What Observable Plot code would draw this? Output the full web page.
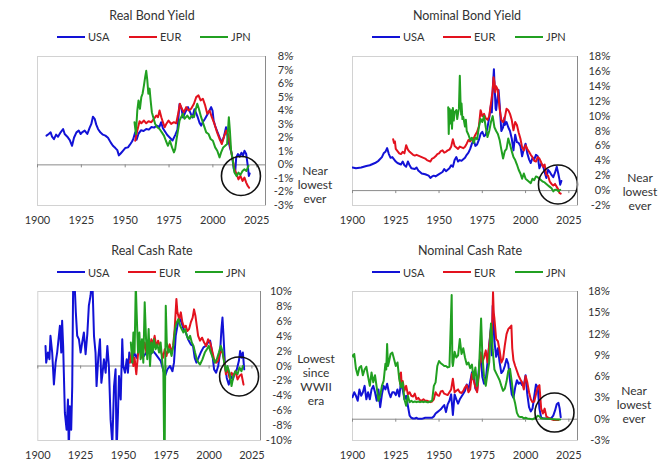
<!DOCTYPE html>
<html><head><meta charset="utf-8">
<script src="https://cdn.jsdelivr.net/npm/d3@7"></script>
<script src="https://cdn.jsdelivr.net/npm/@observablehq/plot@0.6"></script>
<style>
body{margin:0;background:#fff;}
#chart{position:relative;width:671px;height:472px;overflow:hidden;font-family:Lato,"Open Sans",sans-serif;color:#333;}
.title{position:absolute;font-size:12.5px;line-height:16px;transform:translateX(-50%);white-space:nowrap;}
.leg{position:absolute;height:16px;font-size:11px;display:flex;align-items:center;white-space:nowrap;}
.leg .sw{display:inline-block;width:28px;height:2px;margin-right:3px;}
.note{position:absolute;font-size:12px;line-height:14px;text-align:center;transform:translateX(-50%);white-space:nowrap;}
.panel{position:absolute;}
</style></head><body><div id="chart"></div>
<script>
// ---- categories / ticks ----
const seriesNames = ["USA", "EUR", "JPN"];
const xTickYears = [1900, 1925, 1950, 1975, 2000, 2025];
const realBondTicks = [-3,-2,-1,0,1,2,3,4,5,6,7,8];
const nomBondTicks = [-2,0,2,4,6,8,10,12,14,16,18];
const realCashTicks = [-10,-8,-6,-4,-2,0,2,4,6,8,10];
const nomCashTicks = [-3,0,3,6,9,12,15,18];

// ---- Real Bond Yield (%), [year, value] ----
const realBondUSA = [[1905.1,2.16],[1906.4,2.28],[1907.5,2.4],[1908.3,2.08],[1909.4,1.9],[1910.6,2.23],[1911.7,2.08],[1913.2,2.4],[1914.6,2.65],[1915.5,2.28],[1917.0,2.08],[1918.4,1.83],[1919.7,1.41],[1920.8,2.0],[1922.2,2.4],[1923.5,2.53],[1924.6,2.28],[1925.4,2.4],[1926.9,2.53],[1928.4,2.28],[1929.7,2.73],[1930.7,3.02],[1931.6,3.55],[1932.6,3.4],[1933.5,2.97],[1934.5,2.65],[1935.8,2.4],[1937.3,2.23],[1938.7,2.16],[1940.2,2.0],[1941.7,1.66],[1943.0,1.41],[1944.4,1.24],[1945.5,1.09],[1946.4,0.7],[1947.4,0.84],[1948.7,1.04],[1950.0,1.24],[1951.6,1.29],[1952.7,1.49],[1953.9,1.73],[1954.6,1.91],[1955.7,2.4],[1956.5,1.85],[1957.6,2.3],[1959,2.55],[1960.5,2.5],[1962,2.65],[1963.5,2.6],[1965,2.8],[1966.5,2.75],[1968,2.9],[1969.5,2.8],[1970.5,3.15],[1971.5,2.7],[1972.5,2.5],[1974,2.2],[1975.5,2.0],[1977,1.8],[1978.5,2.2],[1979.8,2.6],[1981,4.5],[1982,4.2],[1983,3.5],[1984.3,3.9],[1985.8,4.26],[1987,3.9],[1988.3,3.5],[1989.5,4.1],[1990.5,3.8],[1991.4,3.5],[1992.4,3.1],[1993.3,2.9],[1994.5,3.2],[1995.5,3.4],[1997.1,3.77],[1999,4.26],[1999.8,4.0],[2000.4,3.3],[2001.2,2.9],[2002.4,2.5],[2003.8,2.03],[2005.1,1.66],[2006.2,2.03],[2007.5,2.78],[2008.5,2.0],[2009.7,1.29],[2010.8,0.8],[2011.9,-0.3],[2012.7,-0.57],[2013.3,0.55],[2014.3,0.8],[2015.3,0.6],[2016.3,0.9],[2017.2,0.7],[2018,1.04],[2019,0.8],[2019.9,-0.07],[2020.5,-0.82],[2021,-0.64]];
const realBondEUR = [[1955.7,1.78],[1956.9,2.53],[1958.2,3.22],[1959.2,3.07],[1960.7,3.27],[1962.0,3.07],[1963.3,3.22],[1964.9,3.15],[1966.4,3.4],[1967.7,3.64],[1968.7,3.52],[1969.6,4.01],[1970.6,3.52],[1971.5,3.15],[1972.5,2.78],[1973.4,3.02],[1974.7,3.27],[1976.2,3.02],[1977.8,3.15],[1979.1,3.07],[1980.0,3.64],[1981.2,4.51],[1982.3,4.14],[1983.5,3.89],[1984.8,4.26],[1986.1,4.01],[1987.6,4.14],[1989.2,4.51],[1990.5,5.0],[1991.8,5.13],[1993.0,4.76],[1994.3,4.88],[1995.6,4.39],[1996.8,3.77],[1998.1,4.01],[1999.4,3.52],[2000.9,3.02],[2002.4,2.4],[2003.8,1.91],[2005.1,1.54],[2006.2,2.03],[2007.6,2.53],[2008.9,2.16],[2010.0,1.29],[2011.4,0.3],[2012.3,-0.32],[2013.5,-0.69],[2014.6,-1.07],[2015.7,-0.82],[2016.9,-1.19],[2018.0,-0.94],[2019.0,-1.31],[2019.9,-1.56],[2020.7,-1.69]];
const realBondJPN = [[1955.3,3.15],[1956.1,2.28],[1956.9,4.01],[1957.6,4.76],[1958.4,4.14],[1959.2,5.0],[1959.9,5.25],[1960.7,5.87],[1961.4,6.49],[1962.0,6.94],[1962.6,6.25],[1963.2,5.25],[1963.9,5.63],[1964.5,4.76],[1965.2,3.89],[1966.0,3.52],[1967.1,3.02],[1968.3,2.78],[1969.6,2.65],[1970.9,2.4],[1972.1,2.16],[1973.2,1.78],[1974.4,1.41],[1975.5,1.78],[1976.7,1.29],[1977.8,0.92],[1978.5,1.16],[1979.3,1.91],[1980.1,2.53],[1981.0,3.27],[1981.9,3.52],[1982.9,3.77],[1983.8,3.4],[1985.4,3.64],[1986.7,3.4],[1988.0,3.64],[1989.2,3.52],[1990.3,4.14],[1991.1,4.51],[1992.0,4.14],[1993.3,3.52],[1994.9,2.9],[1996.2,2.4],[1997.5,2.28],[1998.7,1.91],[2000.0,1.78],[2001.3,1.29],[2002.5,1.04],[2003.8,0.55],[2004.7,0.92],[2005.9,1.29],[2007.0,1.41],[2008.1,1.54],[2009.1,3.52],[2009.7,2.53],[2010.4,1.04],[2011.4,0.3],[2012.3,-0.57],[2013.5,-0.82],[2014.6,-0.57],[2015.7,-0.74],[2016.9,-0.45],[2018.0,-0.32],[2019.1,-0.45],[2020.3,-0.07]];

// ---- Nominal Bond Yield (%) ----
const nomBondUSA = [[1900,3.1],[1902,3.0],[1905,3.1],[1908,3.3],[1910,3.4],[1913,3.7],[1915,4.0],[1917,4.5],[1918,5.0],[1919,5.2],[1920,5.7],[1921,4.9],[1922,4.4],[1923,4.5],[1925,3.9],[1926,3.7],[1927,3.6],[1928,3.5],[1929,3.9],[1930,3.4],[1931,3.2],[1932,3.9],[1933,3.4],[1934,3.0],[1936,2.9],[1937,3.1],[1938,2.7],[1940,2.3],[1942,2.2],[1944,2.0],[1945,1.7],[1946,1.9],[1947,2.0],[1948,1.9],[1950,2.2],[1952,2.5],[1953,2.9],[1954,2.6],[1955,2.8],[1956,3.0],[1957,3.4],[1958,3.2],[1959,4.1],[1960,4.5],[1961,3.9],[1962,4.1],[1963,4.0],[1964,4.2],[1965,4.4],[1966,4.8],[1967,5.1],[1968,5.6],[1969,6.3],[1970,6.8],[1971,6.0],[1972,6.2],[1973,6.8],[1974,7.6],[1975,7.9],[1976,7.3],[1977,7.5],[1978,8.5],[1979,9.8],[1980,11.5],[1980.5,10.5],[1981,13.5],[1981.7,16.3],[1982.2,13.5],[1982.7,11.0],[1983,10.8],[1983.5,11.9],[1984.4,13.5],[1985,11.6],[1986,8.0],[1987,8.5],[1987.8,9.8],[1988,8.8],[1989,9.2],[1990,8.5],[1991,8.0],[1992,7.0],[1993,5.4],[1994,7.5],[1995,6.5],[1996,6.4],[1997,6.0],[1998,4.6],[1999,5.6],[2000,6.3],[2001,5.0],[2002,4.2],[2003,3.7],[2004,4.4],[2005,4.2],[2006,4.8],[2007,4.6],[2008,3.0],[2009,3.6],[2010,3.4],[2011,2.5],[2012,1.7],[2013,2.8],[2014,2.5],[2015,2.1],[2016,1.8],[2017,2.4],[2018,3.2],[2018.8,2.4],[2019.5,1.6],[2020,0.8],[2020.7,1.3]];
const nomBondEUR = [[1923.5,6.9],[1924,6.4],[1924.5,6.6],[1925,5.6],[1926,5.3],[1927,5.0],[1928,4.9],[1929,5.2],[1930,5.0],[1931,6.1],[1932,5.5],[1933,5.2],[1934,5.0],[1935,4.8],[1936,4.7],[1937,4.8],[1938,4.7],[1939,4.6],[1940,4.5],[1941,4.4],[1942,4.3],[1943,4.1],[1944,4.0],[1945,3.9],[1946,4.3],[1947,4.4],[1948,4.6],[1949,4.9],[1950,5.0],[1951,5.3],[1952,5.4],[1953,5.1],[1954,5.2],[1955,5.4],[1956,5.5],[1957,5.9],[1958,6.9],[1959,6.0],[1960,5.8],[1961,5.6],[1962,5.9],[1963,5.8],[1964,5.7],[1965,5.9],[1966,6.3],[1967,6.8],[1968,6.6],[1969,6.9],[1970,7.0],[1971,7.5],[1972,7.9],[1973,8.6],[1974,10.8],[1975,10.0],[1976,10.3],[1977,9.7],[1978,9.5],[1979,10.0],[1980,11.7],[1981,13.5],[1981.5,15.2],[1982,14.6],[1982.5,13.2],[1983,14.0],[1984,13.5],[1985,11.0],[1986,9.5],[1987,9.2],[1988,9.8],[1989,11.0],[1990,10.8],[1991,10.3],[1992,9.5],[1993,8.1],[1994,9.2],[1995,8.8],[1996,7.8],[1997,7.0],[1998,5.8],[1999,5.4],[2000,6.1],[2001,5.6],[2002,5.2],[2003,4.8],[2004,4.5],[2005,4.0],[2006,3.9],[2007,4.5],[2008,4.3],[2009,3.8],[2010,3.2],[2011,3.5],[2012,2.1],[2013,2.0],[2014,1.2],[2015,0.9],[2016,0.7],[2017,0.9],[2018,0.5],[2019,0.1],[2019.5,-0.3],[2020.3,-0.4]];
const nomBondJPN = [[1955.3,11.2],[1955.6,7.6],[1956,11.0],[1956.5,9.0],[1957,10.8],[1957.5,8.3],[1958,11.1],[1958.5,9.4],[1959,10.5],[1960,10.8],[1960.5,9.6],[1961,10.4],[1961.5,11.0],[1962,15.4],[1962.4,12.0],[1962.8,10.2],[1963,11.7],[1963.5,9.6],[1964,9.9],[1965,8.6],[1965.5,9.5],[1966,8.0],[1967,7.5],[1968,6.8],[1969,7.1],[1970,6.4],[1971,7.1],[1972,6.9],[1973,8.5],[1974,9.6],[1975,9.2],[1976,10.0],[1977,8.5],[1978,7.2],[1979,8.0],[1980,9.2],[1981,10.0],[1982,8.5],[1983,8.0],[1984,7.6],[1985,6.8],[1986,5.5],[1987,4.3],[1988,5.3],[1989,5.6],[1990,7.0],[1991,6.2],[1992,5.3],[1993,4.5],[1994,4.1],[1995,3.5],[1996,2.8],[1997,2.3],[1998,1.6],[1999,2.3],[2000,1.6],[2001,1.4],[2002,1.2],[2003,1.0],[2004,1.6],[2005,1.4],[2006,1.9],[2007,1.8],[2008,1.6],[2009,1.4],[2010,1.2],[2011,1.1],[2012,0.9],[2013,0.7],[2014,0.5],[2015,0.3],[2016,-0.1],[2017,0.1],[2018,0.1],[2019,-0.1],[2020,0.1]];

// ---- Real Cash Rate (%) ----
const realCashUSA = [[1904.5,2.7],[1904.9,0.45],[1905.9,1.8],[1906.8,0.9],[1907.4,4.05],[1908.4,1.8],[1909.4,-2.48],[1910.4,0.45],[1911.3,1.8],[1912.3,4.05],[1912.9,5.4],[1913.7,1.8],[1914.2,6.08],[1914.8,2.7],[1915.2,-0.9],[1915.8,-6.3],[1916.8,-8.56],[1917.6,-4.5],[1918.1,-11.5],[1918.7,-5.4],[1919.5,-8.56],[1920.1,-2.7],[1920.7,12.5],[1921.5,11.0],[1922.2,7.2],[1923.0,4.05],[1924.0,3.6],[1925.0,1.8],[1925.9,3.15],[1926.9,4.5],[1927.9,1.58],[1928.9,4.28],[1929.8,8.1],[1930.8,9.46],[1931.8,12.0],[1932.8,4.05],[1933.7,1.8],[1934.3,-2.7],[1935.3,1.13],[1936.3,3.6],[1937.1,-2.25],[1937.6,-1.35],[1938.6,0.9],[1939.6,-0.9],[1940.6,2.7],[1941.5,0],[1942.5,-7.2],[1943.5,-10.5],[1944.5,-2.7],[1945.4,-0.45],[1946.0,-11.5],[1946.8,-6.3],[1947.4,-1.35],[1948.4,-4.5],[1949.3,3.6],[1949.9,0],[1950.9,-0.9],[1951.9,0.9],[1952.6,-0.9],[1953.4,1.8],[1954.2,0.9],[1955.2,0.45],[1956.2,1.8],[1957.7,1.1],[1959.1,2.25],[1960.6,1.8],[1962,1.35],[1963.9,2.0],[1965.9,1.6],[1967.4,2.0],[1968.8,1.6],[1970.4,1.1],[1971.7,0.7],[1973.1,-0.45],[1974.3,-1.35],[1975.6,-0.45],[1977.2,0],[1978.6,-0.7],[1979.5,0.45],[1980.5,4.05],[1981.5,5.4],[1982.5,6.5],[1983.8,5.9],[1985,5.0],[1986.4,4.5],[1987.7,3.6],[1989.3,2.9],[1990.6,2.7],[1991.6,1.1],[1992.6,0.45],[1993.8,1.1],[1995.1,1.8],[1996.7,2.5],[1998.1,2.7],[1999.4,3.15],[2000.6,3.4],[2001.8,1.8],[2002.9,-0.45],[2004.1,-0.9],[2005.3,0],[2006.4,1.8],[2007.2,4.95],[2007.8,6.5],[2008.4,4.05],[2009.2,0.45],[2010.3,-1.6],[2011.5,-2.5],[2012.7,-1.35],[2013.9,-1.8],[2015,-0.9],[2016.2,-0.45],[2017.4,0.7],[2018.1,2.0],[2018.9,1.1],[2019.7,1.8],[2020.5,-0.45]];
const realCashEUR = [[1953.8,0.45],[1954.8,1.8],[1955.8,0],[1956.5,1.1],[1957.5,-1.1],[1958.5,1.6],[1959.5,2.7],[1960.4,1.1],[1961.4,2.0],[1962.4,3.15],[1963.4,1.8],[1964.3,2.9],[1965.3,2.25],[1966.3,3.6],[1967.2,2.9],[1968.2,4.05],[1969.2,2.5],[1970.2,3.4],[1971.2,2.7],[1972.1,1.8],[1973.1,1.1],[1974.1,2.25],[1975.1,1.35],[1976,2.25],[1977,2.9],[1978,1.8],[1979,2.7],[1979.9,4.95],[1980.9,9.0],[1981.5,7.2],[1982.5,6.3],[1983.5,7.2],[1984.4,5.85],[1985.4,5.2],[1986.4,5.4],[1987.3,4.7],[1988.3,4.95],[1989.3,5.85],[1990.4,6.5],[1991.2,7.6],[1992,6.75],[1992.8,5.4],[1993.6,4.05],[1994.7,3.4],[1995.9,3.8],[1997.1,3.15],[1998.3,2.7],[1999.4,3.6],[2000.6,3.15],[2001.8,2.0],[2002.9,0.9],[2004.1,0.45],[2005.3,0.7],[2006.4,1.8],[2007.6,2.0],[2008.8,0.7],[2009.8,-1.1],[2010.7,-0.2],[2011.9,-1.6],[2013.1,-0.9],[2014.2,-1.35],[2015.4,-0.7],[2016.6,-1.8],[2017.7,-1.35],[2018.9,-1.1],[2020.1,-2.5]];
const realCashJPN = [[1954.3,3.15],[1955.2,0.45],[1955.8,4.5],[1956.5,1.8],[1957.2,11.0],[1957.7,7.2],[1958.5,1.8],[1959.3,4.5],[1960,0.9],[1960.8,3.6],[1961.6,0.45],[1962.4,8.56],[1963.2,3.6],[1963.9,0.9],[1964.7,4.95],[1965.5,0],[1966.3,3.15],[1967.1,1.8],[1967.8,3.6],[1968.8,2.25],[1969.8,2.9],[1970.8,1.8],[1971.7,3.15],[1972.7,0.45],[1973.3,-0.9],[1973.7,-9.9],[1974.0,-15],[1974.3,-2.7],[1974.7,8.1],[1975.3,3.15],[1976.2,1.8],[1977.1,2.25],[1978.1,1.35],[1979.1,2.7],[1980.1,4.95],[1981.1,5.85],[1982.1,6.3],[1983.1,5.4],[1984,4.95],[1985,4.5],[1986,4.95],[1987,4.05],[1987.9,3.6],[1988.9,4.05],[1989.9,3.15],[1990.9,2.7],[1991.8,1.8],[1992.8,0.9],[1993.8,0.45],[1994.7,0.2],[1996.1,0.9],[1997.5,1.8],[1998.7,2.25],[1999.8,2.7],[2001,1.8],[2002.2,1.1],[2003.3,0.45],[2004.5,0.9],[2005.7,1.8],[2006.8,2.7],[2007.8,2.0],[2008.8,0.45],[2009.8,-0.7],[2010.7,0],[2011.9,-0.9],[2013.1,-2.7],[2014.2,-1.35],[2015.4,-0.7],[2016.6,-1.1],[2017.7,-0.2],[2018.9,-0.7],[2019.7,0]];

// ---- Nominal Cash Rate (%) ----
const nomCashUSA = [[1900,3.1],[1901,3.8],[1902,3.3],[1903,2.6],[1904,4.2],[1905,3.3],[1906,3.8],[1907,4.7],[1908,2.8],[1909,3.8],[1910,2.8],[1911,4.2],[1912,4.7],[1913,3.8],[1914,2.6],[1915,4.2],[1916,1.7],[1917,3.5],[1918,4.7],[1919,4.2],[1920,5.0],[1921,3.8],[1922,3.1],[1923,3.8],[1924,3.8],[1925,3.4],[1926,4.2],[1927,3.2],[1928,5.2],[1929,4.2],[1930,2.8],[1931,3.3],[1932,1.9],[1933,0.5],[1934,0.2],[1935,0.1],[1936,0.1],[1937,0.2],[1938,0.05],[1940,0.05],[1942,0.2],[1944,0.2],[1946,0.2],[1947,0.4],[1948,0.8],[1949,1.0],[1950,1.2],[1951,1.4],[1952,1.7],[1953,2.0],[1954,1.0],[1955,2.1],[1956,2.6],[1957,3.5],[1958,0.6],[1959,3.5],[1960,2.8],[1961,2.2],[1962,2.8],[1963,3.2],[1964,3.6],[1965,4.0],[1966,4.9],[1967,4.2],[1968,5.3],[1969,6.6],[1970,6.4],[1971,4.3],[1972,4.0],[1973,7.0],[1974,9.4],[1975,6.0],[1976,5.0],[1977,5.5],[1978,8.0],[1979,10.5],[1980,13.0],[1980.5,9.0],[1981,16.0],[1981.5,14.5],[1982,11.0],[1983,8.8],[1984,10.0],[1985,8.0],[1986,6.5],[1987,6.8],[1988,7.5],[1989,8.5],[1990,7.8],[1991,5.5],[1992,3.5],[1993,3.0],[1994,4.5],[1995,5.5],[1996,5.0],[1997,5.2],[1998,4.8],[1999,4.8],[2000,6.2],[2001,3.5],[2002,1.7],[2003,1.1],[2004,1.5],[2005,3.2],[2006,4.9],[2007,4.5],[2008,1.5],[2009,0.2],[2010,0.15],[2012,0.1],[2014,0.05],[2015,0.2],[2016,0.5],[2017,1.2],[2018,2.1],[2019,2.3],[2019.7,1.5],[2020.3,0.3]];
const nomCashEUR = [[1927,6.4],[1927.5,5.0],[1928,6.6],[1928.5,4.6],[1929,5.4],[1930,4.0],[1931,4.7],[1932,3.5],[1933,3.8],[1934,3.3],[1935,3.2],[1936,3.6],[1937,2.8],[1938,3.0],[1939,2.7],[1940,2.6],[1941,2.8],[1942,2.6],[1943,2.6],[1944,2.5],[1945,2.4],[1946,2.5],[1947,2.8],[1948,3.8],[1949,3.4],[1950,3.3],[1951,3.9],[1952,4.0],[1953,3.6],[1954,3.5],[1955,3.4],[1956,3.8],[1957,4.2],[1958,5.7],[1959,3.8],[1960,4.0],[1961,4.2],[1962,3.8],[1963,3.7],[1964,4.0],[1965,4.5],[1966,4.8],[1967,3.8],[1968,4.2],[1969,6.4],[1970,5.5],[1971,4.5],[1972,3.8],[1973,6.2],[1974,9.4],[1975,8.0],[1976,8.7],[1977,9.7],[1978,8.0],[1979,10.4],[1980,12.7],[1980.5,11.0],[1981.2,17.9],[1981.6,15.0],[1982,14.2],[1983,11.3],[1984,11.0],[1985,9.7],[1986,8.0],[1987,8.5],[1988,10.4],[1989,12.0],[1990,12.7],[1991.8,13.2],[1992.3,10.0],[1993,8.3],[1994,7.5],[1995,6.8],[1996,6.1],[1997,5.6],[1998,5.2],[1999,4.2],[2000,6.1],[2001,5.2],[2002,3.8],[2003,2.8],[2004,2.4],[2005,2.5],[2006,3.5],[2007,4.5],[2008,4.8],[2009,1.5],[2010,0.8],[2011,1.5],[2012,0.4],[2013,0.2],[2014,0.1],[2015,0.0],[2016,-0.1],[2017,-0.1],[2018,-0.1],[2019,-0.1]];
const nomCashJPN = [[1900,9.0],[1900.5,8.8],[1901,9.2],[1902,7.1],[1903,6.2],[1904,7.3],[1905,7.5],[1906,6.2],[1907,7.0],[1908,7.4],[1909,6.0],[1910,4.7],[1911,6.6],[1912,5.2],[1913,6.2],[1914,4.5],[1915,2.6],[1916,3.3],[1917,4.7],[1918,5.4],[1919,7.8],[1919.5,7.0],[1920,10.6],[1920.5,7.5],[1921,8.0],[1922,9.2],[1923,9.4],[1924,8.5],[1925,7.5],[1926,8.0],[1927,5.7],[1928,4.5],[1929,5.2],[1930,2.8],[1931,1.9],[1932,3.3],[1933,2.4],[1934,2.6],[1935,2.4],[1936,2.5],[1937,2.4],[1938,2.5],[1939,2.4],[1940,2.5],[1941,2.4],[1942,2.5],[1943,2.4],[1944,2.4],[1945,2.5],[1946,2.6],[1947,4.7],[1948,5.2],[1949,7.5],[1950,8.2],[1951,7.9],[1952,7.7],[1953,7.5],[1954,7.5],[1955,7.3],[1956,7.4],[1957.3,17.5],[1957.7,8.0],[1958,7.5],[1959,9.5],[1960,8.7],[1961,9.0],[1962,11.3],[1963,9.2],[1964,10.0],[1965,8.7],[1966,7.7],[1967,8.0],[1968,7.2],[1969,7.7],[1970,5.7],[1971,7.3],[1972,4.7],[1973,6.5],[1974.3,14.2],[1975,9.2],[1976,6.0],[1977,4.7],[1978,6.5],[1979,8.0],[1980,13.5],[1980.5,12.0],[1981,9.8],[1982,7.0],[1983,6.5],[1984,6.0],[1985,5.5],[1986,4.7],[1987,4.0],[1988,4.3],[1989,5.3],[1990,6.8],[1991,7.1],[1992,5.3],[1993,3.2],[1994,2.2],[1995,0.9],[1996,0.4],[1997,0.3],[1998,0.3],[1999,0.1],[2000,0.2],[2001,0.1],[2002,0.05],[2004,0.0],[2006,0.2],[2007,0.5],[2008,0.4],[2009,0.1],[2010,0.1],[2012,0.05],[2014,0.05],[2016,0.0],[2018,-0.05],[2020,-0.05]];

// ---- highlight circles (data coordinates) ----
const circleRealBond = [2016.0, -0.82];
const circleNomBond = [2018.7, 0.82];
const circleRealCash = [2017.5, -1.41];
const circleNomCash = [2016.7, 0.94];

// ---- styles / layout ----
const colors = ["#1212d6", "#e3121e", "#21a021"];
const xDomain = [1900, 2030];

const panels = [
  {title: "Real Bond Yield", series: [realBondUSA, realBondEUR, realBondJPN], yDomain: [-3, 8], yTicks: realBondTicks, circle: circleRealBond,
   left: 0, top: 46, width: 335, height: 190, ml: 37, mr: 70, mt: 10, mb: 31, labelOffset: 27.5,
   titleX: 152, titleY: 8, legendX: [57, 129, 200], legendY: 28.5,
   note: ["Near", "lowest", "ever"], noteX: 315, noteY: 164},
  {title: "Nominal Bond Yield", series: [nomBondUSA, nomBondEUR, nomBondJPN], yDomain: [-2, 18], yTicks: nomBondTicks, circle: circleNomBond,
   left: 335, top: 46, width: 336, height: 190, ml: 17, mr: 94, mt: 10, mb: 31, labelOffset: 32.5,
   titleX: 467, titleY: 8, legendX: [372, 443, 515], legendY: 28.5,
   note: ["Near", "lowest", "ever"], noteX: 640, noteY: 171},
  {title: "Real Cash Rate", series: [realCashUSA, realCashEUR, realCashJPN], yDomain: [-10, 10], yTicks: realCashTicks, circle: circleRealCash,
   left: 0, top: 281, width: 335, height: 191, ml: 37.3, mr: 75, mt: 10, mb: 32, labelOffset: 31,
   titleX: 152, titleY: 243, legendX: [57, 128, 195], legendY: 264,
   note: ["Lowest", "since", "WWII", "era"], noteX: 316, noteY: 352},
  {title: "Nominal Cash Rate", series: [nomCashUSA, nomCashEUR, nomCashJPN], yDomain: [-3, 18], yTicks: nomCashTicks, circle: circleNomCash,
   left: 335, top: 281, width: 336, height: 191, ml: 17, mr: 94, mt: 10, mb: 32, labelOffset: 32,
   titleX: 470, titleY: 243, legendX: [372, 443, 515], legendY: 264,
   note: ["Near", "lowest", "ever"], noteX: 634, noteY: 384}
];

const chart = document.getElementById("chart");
const axisGray = "#8a8a8a";

for (const p of panels) {
  const innerH = p.height - p.mt - p.mb;
  const tickLen = (p.yDomain[1] - p.yDomain[0]) / innerH * 3;
  const svg = Plot.plot({
    width: p.width, height: p.height,
    marginLeft: p.ml, marginRight: p.mr, marginTop: p.mt, marginBottom: p.mb,
    style: {fontFamily: "Lato, 'Open Sans', sans-serif", fontSize: "11px", color: "#333", background: "transparent", overflow: "visible"},
    x: {domain: xDomain},
    y: {domain: p.yDomain},
    marks: [
      Plot.frame({stroke: "#d2d2d2"}),
      Plot.ruleY([0], {stroke: axisGray}),
      Plot.ruleX(xTickYears, {x: d => d, y1: 0, y2: -tickLen, stroke: axisGray}),
      ...p.series.map((s, i) => Plot.line(s, {x: d => d[0], y: d => d[1], stroke: colors[i], strokeWidth: 2, clip: true})),
      Plot.dot([p.circle], {x: d => d[0], y: d => d[1], r: 19.5, stroke: "#111", strokeWidth: 1.6, fill: "none"}),
      Plot.ruleX([xDomain[1]], {stroke: axisGray}),
      Plot.axisX({anchor: "bottom", ticks: xTickYears, tickSize: 0, tickPadding: 11, tickFormat: d => String(d), fill: "#333"}),
      Plot.axisY({anchor: "right", ticks: p.yTicks, tickSize: 3, tickPadding: 0, textAnchor: "end", dx: p.labelOffset - 3, tickFormat: d => `${d}%`, stroke: axisGray, fill: "#333"})
    ]
  });
  svg.classList.add("panel");
  svg.style.left = p.left + "px";
  svg.style.top = p.top + "px";
  chart.appendChild(svg);

  const t = document.createElement("div");
  t.className = "title";
  t.style.left = p.titleX + "px";
  t.style.top = p.titleY + "px";
  t.textContent = p.title;
  chart.appendChild(t);

  seriesNames.forEach((name, i) => {
    const e = document.createElement("div");
    e.className = "leg";
    e.style.left = p.legendX[i] + "px";
    e.style.top = p.legendY + "px";
    const sw = document.createElement("span");
    sw.className = "sw";
    sw.style.background = colors[i];
    e.appendChild(sw);
    e.appendChild(document.createTextNode(name));
    chart.appendChild(e);
  });

  const n = document.createElement("div");
  n.className = "note";
  n.style.left = p.noteX + "px";
  n.style.top = p.noteY + "px";
  n.innerHTML = p.note.join("<br>");
  chart.appendChild(n);
}
</script>
</body></html>
